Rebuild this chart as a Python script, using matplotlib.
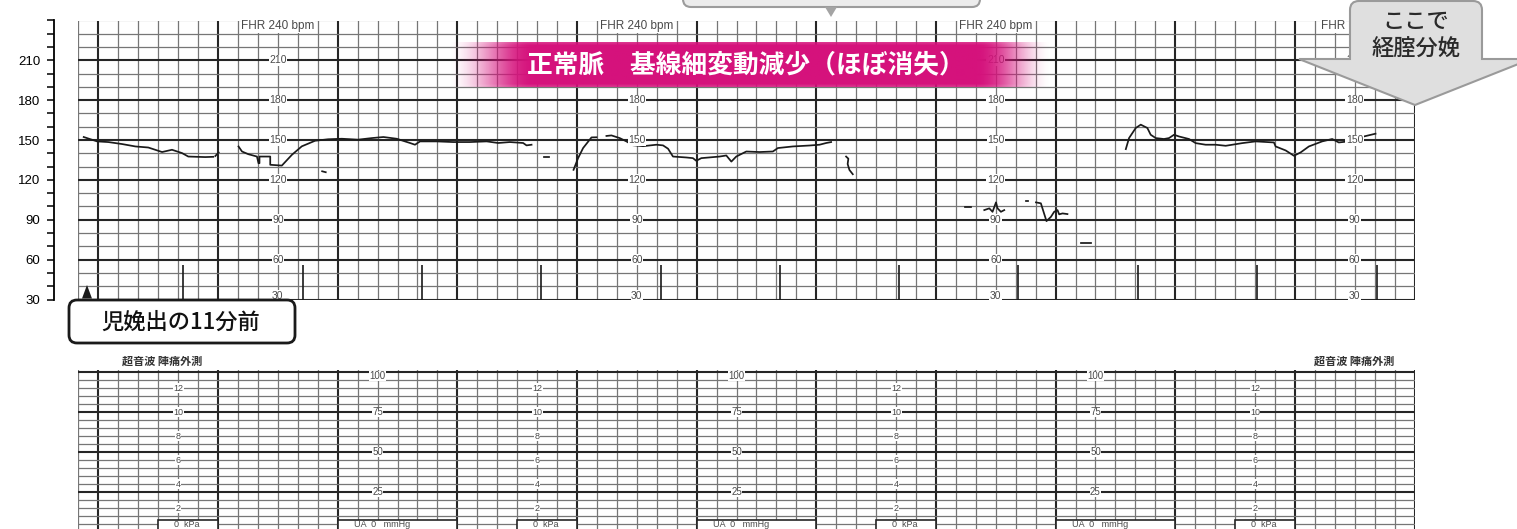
import numpy as np
import matplotlib
matplotlib.use("Agg")
import matplotlib.pyplot as plt
from matplotlib.patches import FancyBboxPatch, Polygon, Rectangle, PathPatch
from matplotlib.path import Path
from matplotlib.ticker import FixedLocator, MultipleLocator, FuncFormatter

JP = ['Noto Sans CJK JP', 'DejaVu Sans']
NUM = ['Liberation Sans', 'DejaVu Sans']

# ---------------- data ----------------
# FHR trace pieces: time in minutes (0 = first bold minute line), value in bpm
fhr_a_t = [-0.123, -0.011, 0.083, 0.198, 0.309, 0.417, 0.532, 0.615, 0.699, 0.751, 0.893, 0.960]
fhr_a_bpm = [152.3, 149.0, 148.5, 147.0, 145.2, 144.4, 141.0, 142.7, 140.2, 137.6, 137.2, 137.4]
fhr_b_t = [0.977, 1.005]
fhr_b_bpm = [138.0, 140.7]
fhr_c_t = [1.171, 1.200, 1.252, 1.325, 1.338, 1.346, 1.346, 1.436, 1.436, 1.533, 1.617, 1.700,
           1.811, 1.920, 2.034, 2.170, 2.285, 2.382, 2.493, 2.604, 2.646, 2.688, 2.827, 2.966,
           3.105, 3.245, 3.341, 3.439, 3.550, 3.578, 3.620]
fhr_c_bpm = [145.2, 141.4, 139.4, 137.6, 132.6, 132.6, 137.6, 137.6, 131.4, 130.8, 138.9, 145.3,
             149.5, 150.6, 151.0, 150.3, 151.5, 152.3, 151.0, 147.8, 146.5, 149.0, 149.0, 148.5,
             148.5, 149.0, 147.8, 148.5, 147.8, 146.0, 146.5]
fhr_d_t = [1.870, 1.900]
fhr_d_bpm = [126.5, 125.8]
fhr_e_t = [3.723, 3.765]
fhr_e_bpm = [137.2, 137.2]
fhr_f_t = [3.971, 4.009, 4.051, 4.121, 4.163]
fhr_f_bpm = [127.6, 136.4, 144.0, 152.0, 152.1]
fhr_g_t = [4.246, 4.288, 4.357, 4.413, 4.468, 4.552, 4.664, 4.719, 4.761, 4.802, 4.914, 4.969,
           4.997, 5.039, 5.192, 5.248, 5.290, 5.331, 5.415, 5.526, 5.637, 5.679, 5.804, 5.943,
           6.027, 6.083, 6.124]
fhr_g_bpm = [153.1, 153.5, 151.5, 149.0, 146.1, 145.4, 146.5, 146.0, 143.5, 137.6, 136.9, 136.4,
             134.4, 136.4, 137.6, 138.4, 133.8, 137.6, 141.4, 141.0, 141.4, 144.0, 145.2, 145.9,
             146.5, 147.8, 148.5]
fhr_h_t = [6.249, 6.268, 6.262, 6.277, 6.305]
fhr_h_bpm = [137.6, 136.0, 132.0, 127.5, 124.3]
fhr_i_t = [7.245, 7.295]
fhr_i_bpm = [99.8, 99.8]
fhr_j_t = [7.404, 7.446, 7.473, 7.502, 7.515, 7.543, 7.571]
fhr_j_bpm = [97.3, 98.6, 96.0, 103.1, 98.6, 96.0, 97.3]
fhr_k_t = [7.755, 7.770]
fhr_k_bpm = [104.1, 104.1]
fhr_l_t = [7.836, 7.877, 7.924, 7.961, 7.988, 8.016, 8.030, 8.058, 8.099]
fhr_l_bpm = [103.1, 102.4, 89.0, 92.2, 96.0, 97.3, 94.1, 94.8, 94.3]
fhr_m_t = [8.214, 8.297]
fhr_m_bpm = [72.6, 72.6]
fhr_n_t = [8.587, 8.614, 8.670, 8.712, 8.767, 8.795, 8.837, 8.906, 8.948, 8.990, 9.032, 9.115,
           9.171, 9.254, 9.338, 9.422, 9.560, 9.672, 9.825, 9.839, 9.923, 9.992, 10.048, 10.117,
           10.228, 10.312, 10.367, 10.451, 10.576, 10.674]
fhr_n_bpm = [143.2, 151.5, 159.1, 161.6, 159.1, 154.0, 151.5, 150.8, 151.5, 154.0, 152.7, 150.8,
             147.7, 146.5, 146.5, 145.7, 147.7, 149.0, 148.2, 145.2, 142.2, 138.2, 140.7, 145.2,
             149.0, 150.8, 148.2, 149.0, 152.7, 154.8]
fhr_pieces = [(fhr_a_t, fhr_a_bpm), (fhr_b_t, fhr_b_bpm), (fhr_c_t, fhr_c_bpm), (fhr_d_t, fhr_d_bpm),
              (fhr_e_t, fhr_e_bpm), (fhr_f_t, fhr_f_bpm), (fhr_g_t, fhr_g_bpm), (fhr_h_t, fhr_h_bpm),
              (fhr_i_t, fhr_i_bpm), (fhr_j_t, fhr_j_bpm), (fhr_k_t, fhr_k_bpm), (fhr_l_t, fhr_l_bpm),
              (fhr_m_t, fhr_m_bpm), (fhr_n_t, fhr_n_bpm)]

# event marks printed at the bottom of the FHR strip
mark_t = [0.710, 1.711, 2.702, 3.703, 4.705, 5.699, 6.694, 7.688, 8.690, 9.683, 10.684]
mark_top_bpm = 56

# printed scale labels on the paper
fhr_scale_cols = [1.5, 4.5, 7.5, 10.5]
fhr_scale_vals = [210, 180, 150, 120, 90, 60, 30]
fhr_scale_hidden = [(4.5, 210)]          # covered by the pink banner
fhr_header_t = [1.5, 4.5, 7.5, 10.217]
fhr_header_txt = ['FHR 240 bpm', 'FHR 240 bpm', 'FHR 240 bpm', 'FHR']   # last one cut by the callout
fhr_header_ha = ['center', 'center', 'center', 'left']
kpa_cols = [0.667, 3.667, 6.667, 9.667]
kpa_vals = [12, 10, 8, 6, 4, 2]
mmhg_cols = [2.333, 5.333, 8.333]
mmhg_vals = [100, 75, 50, 25]

title_text = "正常脈　基線細変動減少（ほぼ消失）"
note_left = "児娩出の11分前"
note_right_1 = "ここで"
note_right_2 = "経腟分娩"
toco_label = "超音波 陣痛外測"

# ---------------- figure ----------------
W, H, DPI = 1517, 529, 100
fig = plt.figure(figsize=(W / DPI, H / DPI), dpi=DPI)
fig.patch.set_facecolor('white')


def fx(px):
    return px / W


def fy(py):
    return 1 - py / H


XL, XR = 78, 1415
ax = fig.add_axes([fx(XL), fy(299.5), fx(XR) - fx(XL), fy(20.5) - fy(299.5)])
axl = fig.add_axes([fx(XL), fy(529), fx(XR) - fx(XL), fy(370) - fy(529)])

MINOR_C, MAJOR_C = '#767676', '#262626'
LABEL_C = '#4a4a4a'


def paper_grid(a, ymaj, ymin):
    a.set_xlim(-1 / 6 - 0.004, 11.004)
    a.xaxis.set_major_locator(FixedLocator(np.arange(0, 12)))
    a.xaxis.set_minor_locator(FixedLocator([k / 6 for k in range(-1, 67) if k % 6]))
    a.yaxis.set_major_locator(MultipleLocator(ymaj))
    a.yaxis.set_minor_locator(MultipleLocator(ymin))
    a.grid(which='minor', color=MINOR_C, lw=0.9)
    a.grid(which='major', color=MAJOR_C, lw=1.5)
    a.set_axisbelow(True)
    a.tick_params(axis='x', which='both', length=0, labelbottom=False)
    for s in a.spines.values():
        s.set_visible(False)


# ---- FHR strip ----
ax.set_ylim(30, 240)
paper_grid(ax, 30, 10)
ax.spines['left'].set_visible(True)
ax.spines['left'].set_position(('axes', -24 / 1337))
ax.spines['left'].set_linewidth(1.3)
ax.yaxis.set_major_formatter(FuncFormatter(lambda v, p: '' if v > 215 else f'{int(v)}'))
ax.tick_params(axis='y', which='both', left=True, length=5, width=1.1, direction='out',
               pad=5, labelsize=9.5, colors='black')
for lab in ax.get_yticklabels():
    lab.set_fontfamily(NUM)

for t, b in fhr_pieces:
    ax.plot(t, b, color='#1a1a1a', lw=1.25, solid_joinstyle='round', zorder=3)
ax.vlines(mark_t, 30, mark_top_bpm, color='#1a1a1a', lw=1.2, zorder=3)

for c in fhr_scale_cols:
    for v in fhr_scale_vals:
        if (c, v) in fhr_scale_hidden:
            continue
        yv = v + 3 if v == 30 else v
        ax.text(c, yv, str(v), ha='center', va='center', fontsize=7.5, color=LABEL_C,
                family=NUM, zorder=4, bbox=dict(fc='white', ec='none', pad=0.4))
for t, s, ha in zip(fhr_header_t, fhr_header_txt, fhr_header_ha):
    ax.text(t, 235.5, s, ha=ha, va='center', fontsize=8.5, color=LABEL_C,
            family=NUM, zorder=4, bbox=dict(fc='white', ec='none', pad=0.4))

# ---- TOCO strip ----
axl.set_ylim(1.9, 101.25)
paper_grid(axl, 25, 5)
axl.tick_params(axis='y', which='both', length=0, labelleft=False)
for c in kpa_cols:
    for v in kpa_vals:
        axl.text(c, v * 7.5, str(v), ha='center', va='center', fontsize=6.5, color=LABEL_C,
                 family=NUM, zorder=4, bbox=dict(fc='white', ec='none', pad=0.3))
    axl.add_patch(Rectangle((c - 1 / 6, -1), 0.5, 8.5, fc='white', ec='#262626', lw=1.2, zorder=3))
    axl.text(c + 0.07, 5.0, '0  kPa', ha='center', va='center', fontsize=6.5, color=LABEL_C,
             family=NUM, zorder=4)
for c in mmhg_cols:
    for v in mmhg_vals:
        yv = 97.5 if v == 100 else v
        axl.text(c, yv, str(v), ha='center', va='center', fontsize=7, color=LABEL_C,
                 family=NUM, zorder=4, bbox=dict(fc='white', ec='none', pad=0.3))
    axl.add_patch(Rectangle((c - 1 / 3, -1), 1.0, 8.5, fc='white', ec='#262626', lw=1.2, zorder=3))
    axl.text(c + 0.04, 5.0, 'UA  0   mmHg', ha='center', va='center', fontsize=6.5, color=LABEL_C,
             family=NUM, zorder=4)

# ---------------- overlay (pixel coordinates) ----------------
ov = fig.add_axes([0, 0, 1, 1], zorder=10)
ov.patch.set_visible(False)
ov.axis('off')

# pink banner with faded ends
bx0, bx1, by0, by1 = 447, 1052, 42, 87
xs = np.linspace(bx0, bx1, 600)
ramp = np.clip(np.minimum((xs - bx0) / (533 - bx0), (bx1 - xs) / (bx1 - 978)), 0, 1)
ramp = ramp * ramp * (3 - 2 * ramp)
rows = np.linspace(0, 1, 46)
vert = np.clip(np.minimum(rows, 1 - rows) / 0.06, 0, 1) * 0.15 + 0.85
alpha = vert[:, None] * ramp[None, :]
pink = np.array([213, 18, 124]) / 255
rgba = np.zeros((len(rows), len(xs), 4))
rgba[..., :3] = pink
rgba[..., 3] = alpha
ov.imshow(rgba, extent=(bx0, bx1, by1, by0), aspect='auto', interpolation='bilinear', zorder=1)
ov.text(746, 64.5, title_text, ha='center', va='center', fontsize=18.5, fontweight='bold',
        color='white', family=JP, zorder=5)

# top centre callout (cut off by the top edge)
ov.add_patch(FancyBboxPatch((683, -30), 297, 37, boxstyle='round,pad=0,rounding_size=8',
                            fc='#ececec', ec='#9c9c9c', lw=1.5, zorder=2))
ov.add_patch(Polygon([(825, 7), (837, 7), (831, 17)], closed=True, fc='#a4a4a4', ec='none', zorder=2))

# right callout: box + downward arrow as one outline
r = 9
verts = [(1299, 59), (1350, 59), (1350, 1 + r), (1350, 1), (1350 + r, 1), (1482 - r, 1),
         (1482, 1), (1482, 1 + r), (1482, 59), (1531, 59), (1415, 105), (1299, 59)]
codes = [Path.MOVETO, Path.LINETO, Path.LINETO, Path.CURVE3, Path.CURVE3, Path.LINETO,
         Path.CURVE3, Path.CURVE3, Path.LINETO, Path.LINETO, Path.LINETO, Path.CLOSEPOLY]
ov.add_patch(PathPatch(Path(verts, codes), fc='#dfdfdf', ec='#9a9a9a', lw=1.5, zorder=2,
                       joinstyle='miter'))
ov.text(1416, 21.5, note_right_1, ha='center', va='center', fontsize=16, fontweight='medium',
        color='#2a2a2a', family=JP, zorder=5)
ov.text(1416, 49.5, note_right_2, ha='center', va='center', fontsize=16, fontweight='medium',
        color='#2a2a2a', family=JP, zorder=5)

# left-bottom callout
ov.add_patch(FancyBboxPatch((69, 300), 226, 43, boxstyle='round,pad=0,rounding_size=8',
                            fc='white', ec='#1a1a1a', lw=2, zorder=2))
ov.add_patch(Polygon([(82, 298.5), (92, 298.5), (87, 285)], closed=True, fc='#1a1a1a',
                     ec='none', zorder=3))
ov.text(181, 322, note_left, ha='center', va='center', fontsize=16, fontweight='medium',
        color='#111111', family=JP, zorder=5)

# toco strip headers
ov.text(162, 361, toco_label, ha='center', va='center', fontsize=8, fontweight='bold',
        color='#333333', family=JP, zorder=5)
ov.text(1354, 361, toco_label, ha='center', va='center', fontsize=8, fontweight='bold',
        color='#333333', family=JP, zorder=5)

ov.set_xlim(0, W)
ov.set_ylim(H, 0)

fig.savefig('out.png', dpi=DPI, facecolor='white')
